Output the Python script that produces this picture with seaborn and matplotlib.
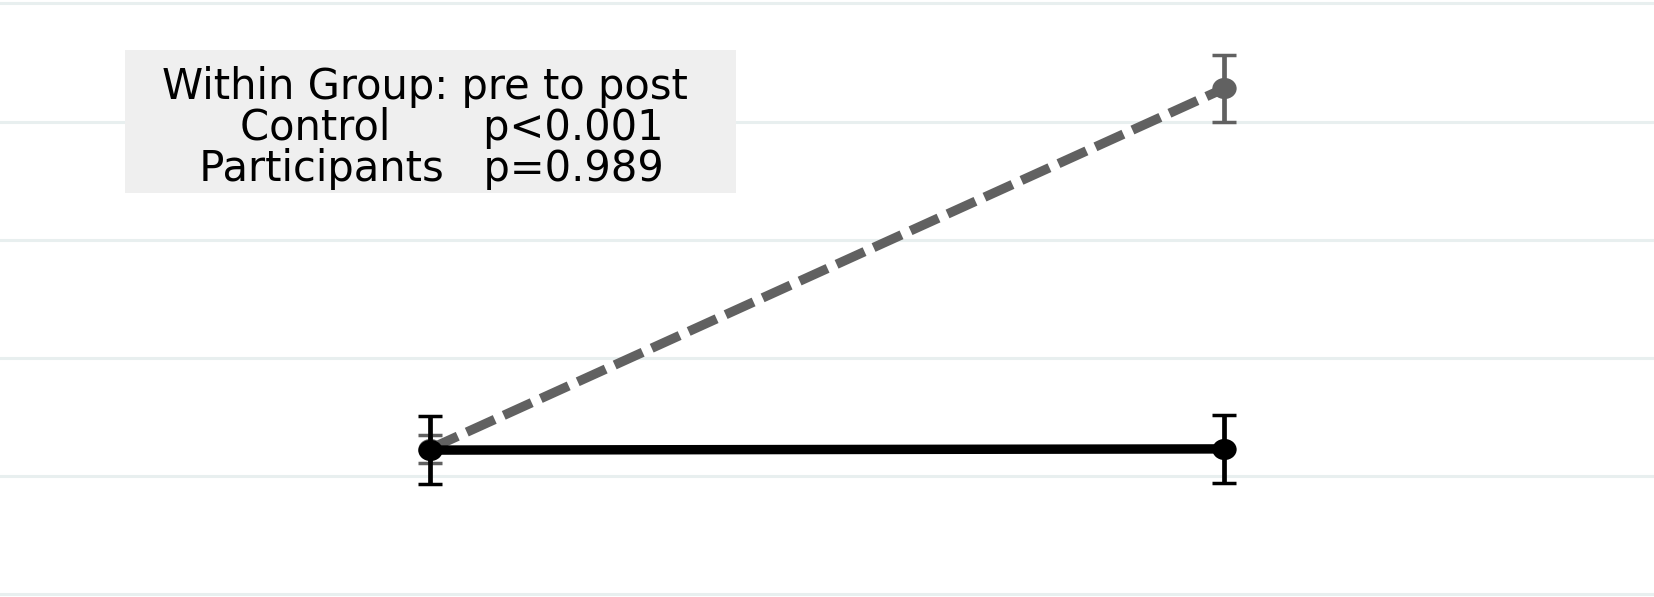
import matplotlib
matplotlib.use("Agg")
import matplotlib.pyplot as plt
from matplotlib.path import Path
from matplotlib.transforms import Affine2D
import numpy as np
import pandas as pd
import seaborn as sns

# Group means and error half-widths at pre (0) and post (1)
times = [0, 1]
control_mean = [1.23, 4.28]
control_err = [0.12, 0.28]
participants_mean = [1.22, 1.23]
participants_err = [0.29, 0.29]

box_title = "Within Group: pre to post"
row_labels = ["Control", "Participants"]
row_pvalues = ["p<0.001", "p=0.989"]

df = pd.DataFrame({
    "time": times * 2,
    "score": control_mean + participants_mean,
    "err": control_err + participants_err,
    "group": ["Control"] * 2 + ["Participants"] * 2,
})

sns.set_theme(style="white")
plt.rcParams["font.family"] = ["DejaVu Sans"]

fig = plt.figure(figsize=(16.54, 5.97), dpi=100)
ax = fig.add_axes([0, 0, 1, 1])

# slightly wide oval marker
oval = Path.unit_circle().transformed(Affine2D().scale(1.15, 1.0))

styles = {
    "Control": dict(color="#616161", ls=(0, (3.25, 1.05)), z=3),
    "Participants": dict(color="#000000", ls="-", z=5),
}

for grp in ["Control", "Participants"]:
    st = styles[grp]
    sub = df[df["group"] == grp]
    ax.errorbar(sub["time"], sub["score"], yerr=sub["err"], fmt="none",
                ecolor=st["color"], elinewidth=3.4, capsize=8.6, capthick=2.5,
                zorder=st["z"])
    sns.lineplot(data=sub, x="time", y="score", ax=ax, color=st["color"],
                 linewidth=6.8, linestyle=st["ls"], marker=oval,
                 markersize=17.5, markeredgewidth=0, errorbar=None,
                 legend=False, zorder=st["z"] + 0.5)

ax.set_xlim(-0.541, 1.541)
ax.set_ylim(-0.023, 5.028)
ax.set_yticks(np.arange(0, 6))
ax.set_xticks([])
ax.yaxis.grid(True, color="#E8EFEF", linewidth=2.2)
ax.set_axisbelow(True)
ax.tick_params(left=False, labelleft=False, bottom=False, labelbottom=False)
for s in ax.spines.values():
    s.set_visible(False)
ax.set_xlabel("")
ax.set_ylabel("")

# annotation box with p-values
ax.add_patch(plt.Rectangle((0.0756, 0.6767), 0.3694, 0.2402,
                           transform=ax.transAxes, facecolor="#EFEFEF",
                           edgecolor="none", zorder=2))
box_text = "\n".join([
    box_title,
    "    " + row_labels[0] + " " * 7 + row_pvalues[0],
    " " + row_labels[1] + " " * 3 + row_pvalues[1],
])
ax.text(0.2570, 0.8901, box_text, transform=ax.transAxes, ha="center",
        va="top", multialignment="center", linespacing=0.98,
        fontsize=30, color="black", zorder=6)

fig.savefig("out.png", dpi=100, facecolor="white")
